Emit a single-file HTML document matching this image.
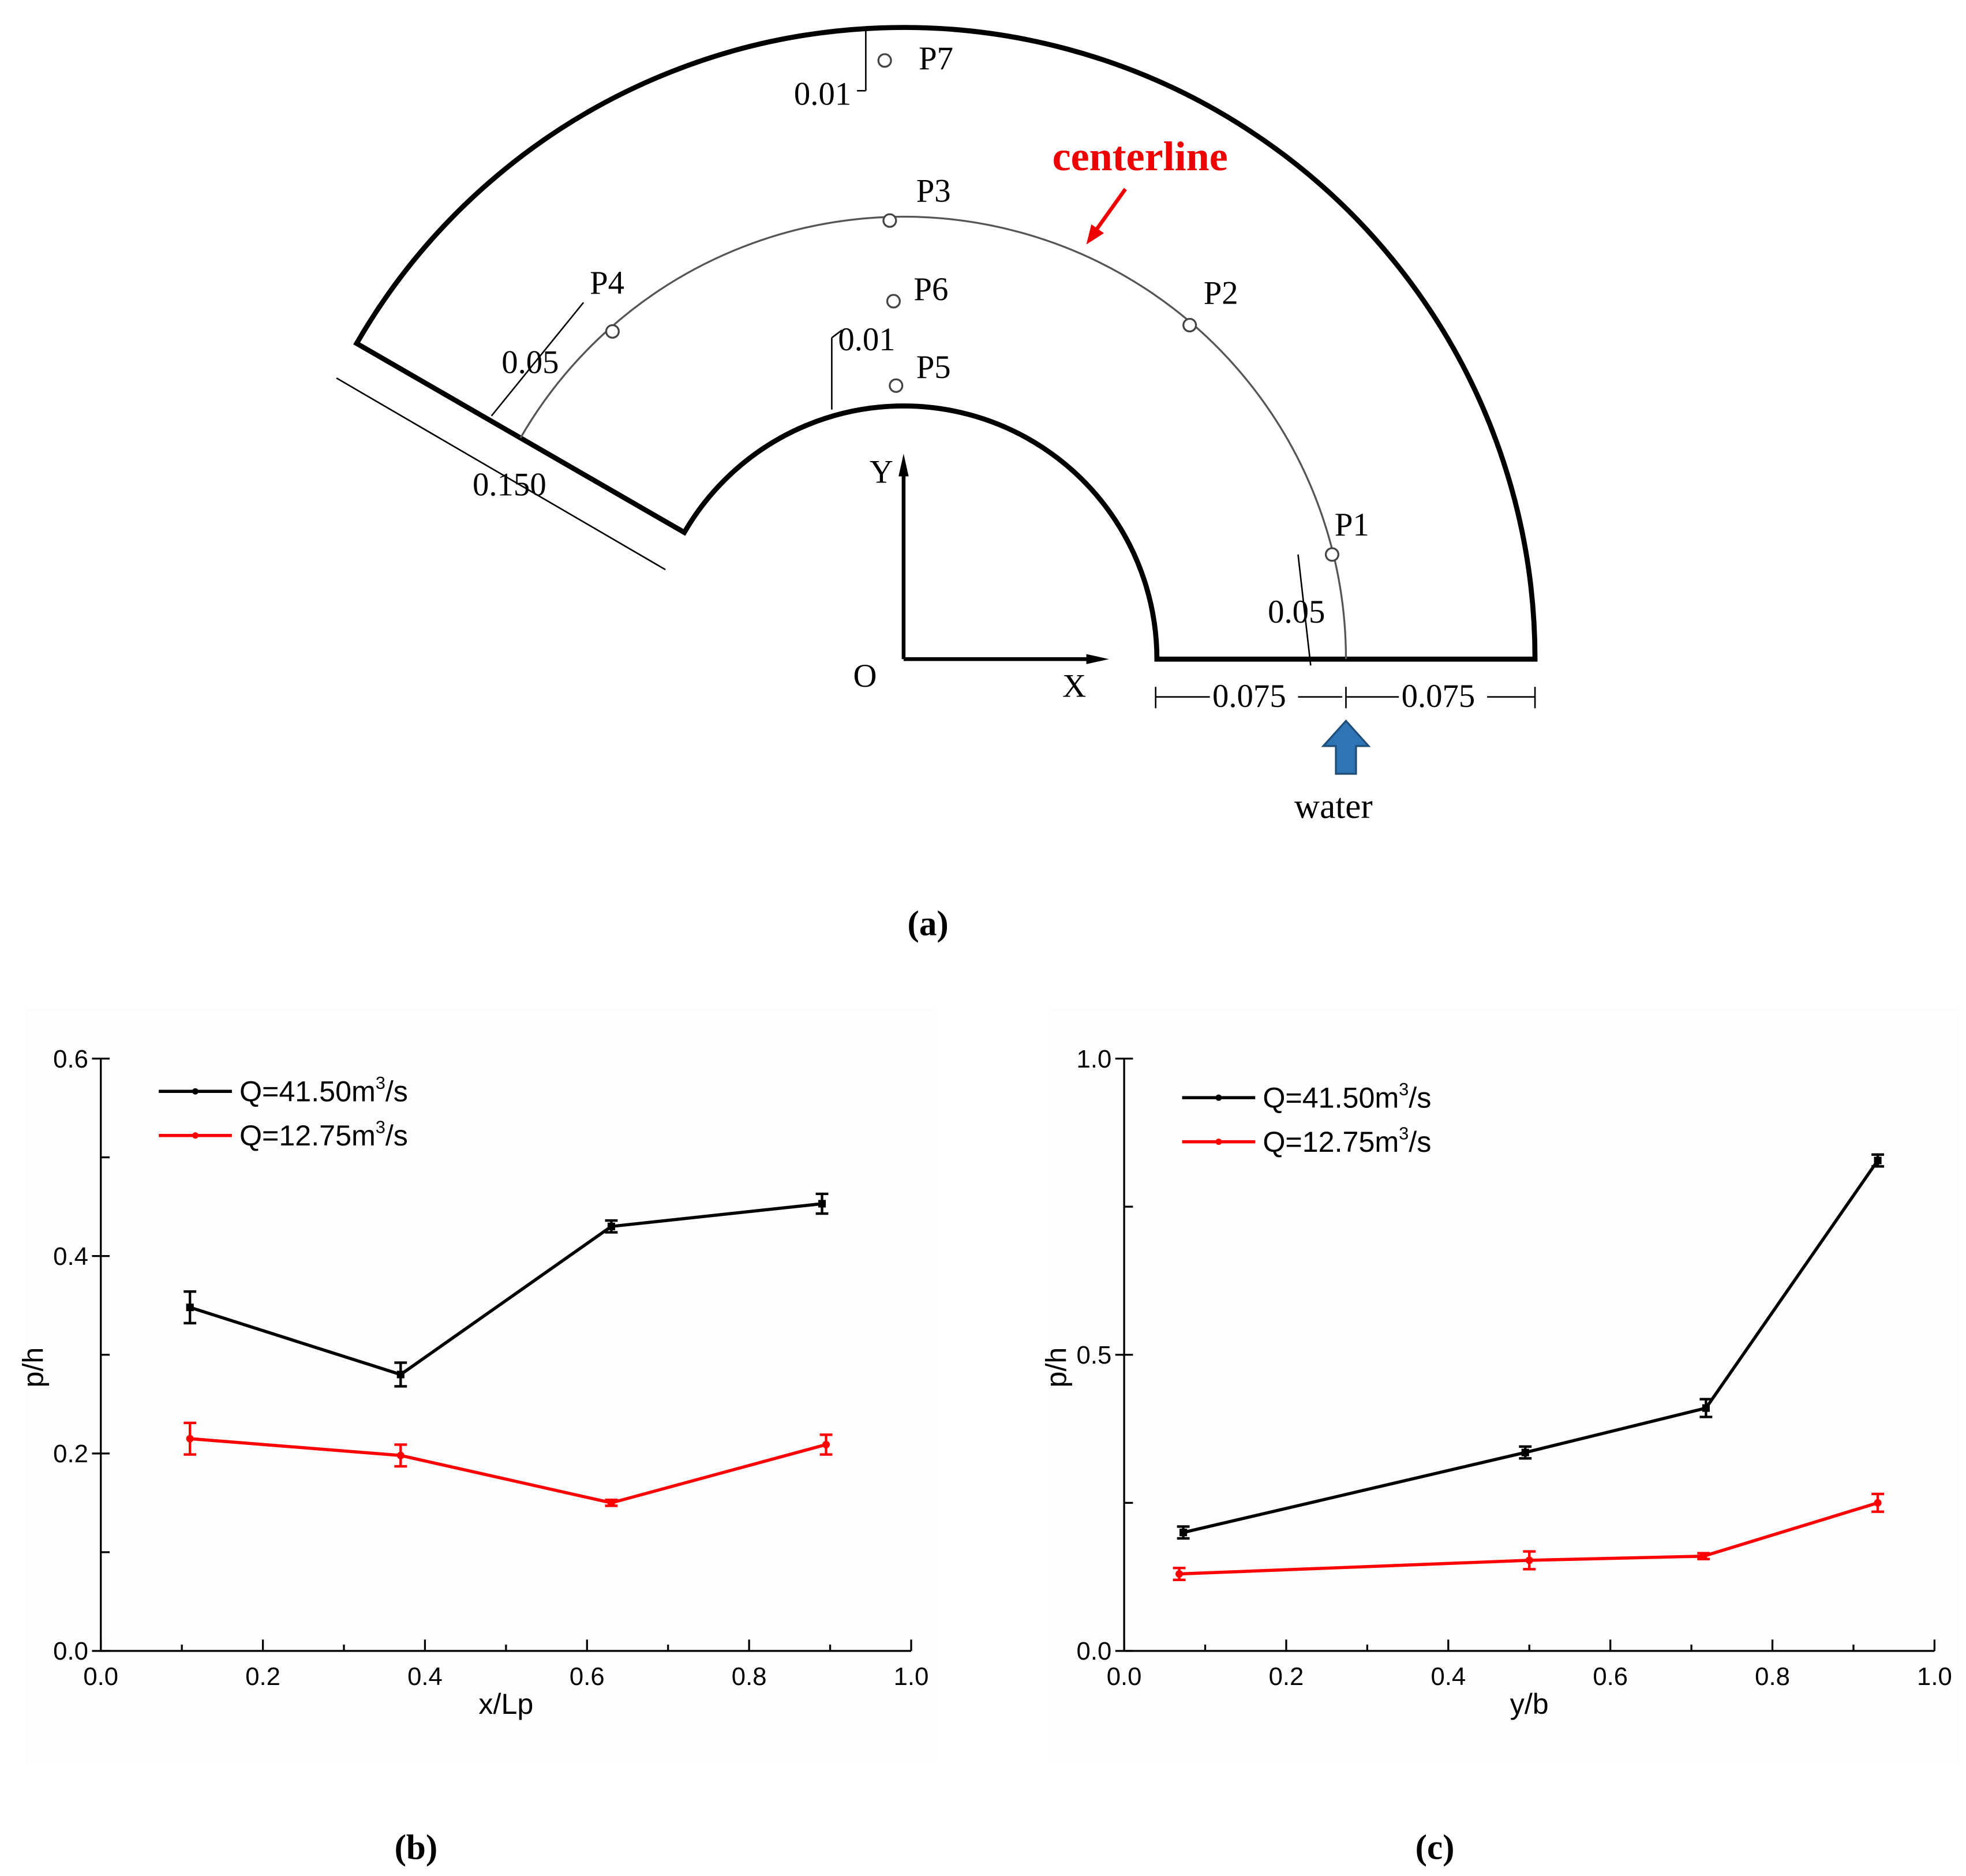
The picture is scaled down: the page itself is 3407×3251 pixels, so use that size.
<!DOCTYPE html>
<html><head><meta charset="utf-8"><style>
html,body{margin:0;padding:0;background:#fff}
svg{display:block}
.serif{font-family:"Liberation Serif",serif}
.sans{font-family:"Liberation Sans",sans-serif}
</style></head><body>
<svg id="fig" width="3407" height="3251" viewBox="0 0 1560 1488.6" preserveAspectRatio="none" xmlns="http://www.w3.org/2000/svg">
<rect width="1560" height="1489" fill="#fff"/>
<g id="diagram" class="serif">
  <path d="M1218 523 A501 501 0 0 0 283 272.5 L543 422.5 A201 201 0 0 1 918 523 Z" fill="none" stroke="#000" stroke-width="4"/>
  <path d="M1068 523 A351 351 0 0 0 413 347.5" fill="none" stroke="#555" stroke-width="1.5"/>
  <g stroke="#000" stroke-width="3">
    <line x1="717" y1="523" x2="717" y2="372"/><line x1="717" y1="523" x2="868" y2="523"/>
  </g>
  <polygon points="717,360 713,378 721,378" fill="#000"/>
  <polygon points="880,523 862,519 862,527" fill="#000"/>
  <text x="690" y="383" font-size="26">Y</text>
  <text x="843" y="553" font-size="26">X</text>
  <text x="677" y="545" font-size="26">O</text>
  <g fill="#fff" stroke="#444" stroke-width="1.5">
    <circle cx="1057" cy="440" r="5"/><circle cx="944" cy="258" r="5"/><circle cx="706" cy="175" r="5"/>
    <circle cx="486" cy="263" r="5"/><circle cx="711" cy="306" r="5"/><circle cx="709" cy="239" r="5"/><circle cx="702" cy="48" r="5"/>
  </g>
  <g font-size="26">
    <text x="1059" y="425">P1</text><text x="955" y="241">P2</text><text x="727" y="160">P3</text>
    <text x="468" y="233">P4</text><text x="727" y="300">P5</text><text x="725" y="238">P6</text><text x="729" y="55">P7</text>
  </g>
  <text x="835" y="135" font-size="33" font-weight="bold" fill="#e00">centerline</text>
  <line x1="893" y1="150" x2="868" y2="185" stroke="#e00" stroke-width="3"/>
  <polygon points="862,194 866,178 876,185" fill="#e00"/>
  <g stroke="#000" stroke-width="1.2" fill="none">
    <line x1="267" y1="300" x2="528" y2="452"/>
    <line x1="390" y1="330" x2="463" y2="240"/>
    <line x1="687" y1="22" x2="687" y2="72"/><line x1="687" y1="72" x2="680" y2="72"/>
    <line x1="660" y1="325" x2="660" y2="268"/><line x1="660" y1="268" x2="668" y2="262"/>
    <line x1="1040" y1="528" x2="1030" y2="440"/>
    <line x1="917" y1="553" x2="960" y2="553"/><line x1="1030" y1="553" x2="1065" y2="553"/>
    <line x1="1068" y1="553" x2="1110" y2="553"/><line x1="1180" y1="553" x2="1218" y2="553"/>
    <line x1="917" y1="545" x2="917" y2="562"/><line x1="1068" y1="545" x2="1068" y2="562"/><line x1="1218" y1="545" x2="1218" y2="562"/>
  </g>
  <g font-size="26">
    <text x="375" y="393">0.150</text><text x="398" y="296">0.05</text><text x="630" y="83">0.01</text>
    <text x="665" y="278">0.01</text><text x="1006" y="494">0.05</text><text x="962" y="561">0.075</text><text x="1112" y="561">0.075</text>
  </g>
  <polygon points="1068,572 1086,592 1076,592 1076,614 1060,614 1060,592 1050,592" fill="#2f75b5" stroke="#1f4e79" stroke-width="1.5"/>
  <text x="1027" y="649" font-size="28">water</text>
  <text x="720" y="742" font-size="28" font-weight="bold">(a)</text>
  <text x="313" y="1475" font-size="28" font-weight="bold">(b)</text>
  <text x="1123" y="1475" font-size="28" font-weight="bold">(c)</text>
</g>
<g id="chartB"></g>
<g id="chartC"></g>
</svg>
<script>
const bX1=[0.11,0.37,0.63,0.89], bY1=[0.348,0.28,0.43,0.453], bE1=[0.016,0.012,0.006,0.01];
const bX2=[0.11,0.37,0.63,0.895], bY2=[0.215,0.198,0.15,0.209], bE2=[0.016,0.011,0.003,0.01];
const cX1=[0.073,0.495,0.718,0.93], cY1=[0.2,0.335,0.41,0.828], cE1=[0.01,0.01,0.015,0.01];
const cX2=[0.068,0.5,0.715,0.93], cY2=[0.13,0.153,0.16,0.25], cE2=[0.01,0.015,0.005,0.015];
const xTicks=["0.0","0.2","0.4","0.6","0.8","1.0"];
const bYTicks=["0.0","0.2","0.4","0.6"], cYTicks=["0.0","0.5","1.0"];
const legendLabels=["Q=41.50m","Q=12.75m"];
const NS="http://www.w3.org/2000/svg";
function mk(p,t,a){const e=document.createElementNS(NS,t);for(const k in a)e.setAttribute(k,a[k]);p.appendChild(e);return e;}
function chart(g,ox,ax1,yMax,yTicks,yMinorStep,xlab,series,legY){
  const oy=1310,top=840;
  const sx=v=>ox+v*(ax1-ox), sy=v=>oy-v/yMax*(oy-top);
  mk(g,'rect',{x:ox-60,y:800,width:ax1-ox+80,height:600,fill:'#fdfdfd'});
  const ax=mk(g,'path',{d:`M${ox} ${top} L${ox} ${oy} L${ax1} ${oy}`,fill:'none',stroke:'#000','stroke-width':1.5});
  
  
  for(let i=0;i<=10;i++){const x=sx(i/10);mk(g,'line',{x1:x,y1:oy,x2:x,y2:oy-(i%2?5:9),stroke:'#000','stroke-width':1.5});}
  xTicks.forEach((t,i)=>{const e=mk(g,'text',{x:sx(+t),y:oy+27,'font-size':20,'text-anchor':'middle',class:'sans'});e.textContent=t;
    
    });
  for(let v=0;v<=yMax+1e-9;v+=yMinorStep){const y=sy(v);mk(g,'line',{x1:ox,y1:y,x2:ox+7,y2:y,stroke:'#000','stroke-width':1.5});}
  yTicks.forEach(t=>{const y=sy(+t);mk(g,'line',{x1:ox,y1:y,x2:ox-7,y2:y,stroke:'#000','stroke-width':1.5});
    const e=mk(g,'text',{x:ox-10,y:y+7,'font-size':20,'text-anchor':'end',class:'sans'});e.textContent=t;
    
    });
  const xl=mk(g,'text',{x:(ox+ax1)/2,y:1360,'font-size':23,'text-anchor':'middle',class:'sans'});xl.textContent=xlab;
  
  
  const yl=mk(g,'text',{x:0,y:0,'font-size':23,'text-anchor':'middle',class:'sans',transform:`translate(${ox-46},${(oy+top)/2+10}) rotate(-90)`});yl.textContent='p/h';
  
  
  series.forEach((s,k)=>{
    const c=k?'#f00':'#000';
    const pl=mk(g,'polyline',{points:s.x.map((v,i)=>sx(v)+','+sy(s.y[i])).join(' '),fill:'none',stroke:c,'stroke-width':2.5});
    
    
    s.x.forEach((v,i)=>{const x=sx(v),y1=sy(s.y[i]-s.e[i]),y2=sy(s.y[i]+s.e[i]);
      const eb=mk(g,'path',{d:`M${x} ${y1}L${x} ${y2}M${x-5} ${y1}H${x+5}M${x-5} ${y2}H${x+5}`,stroke:c,'stroke-width':2,fill:'none'});
      
      
      const m=mk(g,k?'circle':'rect',k?{cx:x,cy:sy(s.y[i]),r:3,fill:c}:{x:x-3,y:sy(s.y[i])-3,width:6,height:6,fill:c});
      
      });
    const ly=legY+k*35, lx=ox+46;
    mk(g,'line',{x1:lx,y1:ly,x2:lx+58,y2:ly,stroke:c,'stroke-width':2.5});
    mk(g,'circle',{cx:lx+29,cy:ly,r:2.5,fill:c});
    const t=mk(g,'text',{x:lx+64,y:ly+8,'font-size':23,class:'sans'});
    t.innerHTML=legendLabels[k]+'<tspan dy="-10" font-size="14">3</tspan><tspan dy="10">/s</tspan>';
    
    
  });
}
chart(document.getElementById('chartB'),80,723,0.6,bYTicks,0.1,'x/Lp',[{x:bX1,y:bY1,e:bE1},{x:bX2,y:bY2,e:bE2}],866);
chart(document.getElementById('chartC'),892,1535,1.0,cYTicks,0.25,'y/b',[{x:cX1,y:cY1,e:cE1},{x:cX2,y:cY2,e:cE2}],871);
</script>
</body></html>
